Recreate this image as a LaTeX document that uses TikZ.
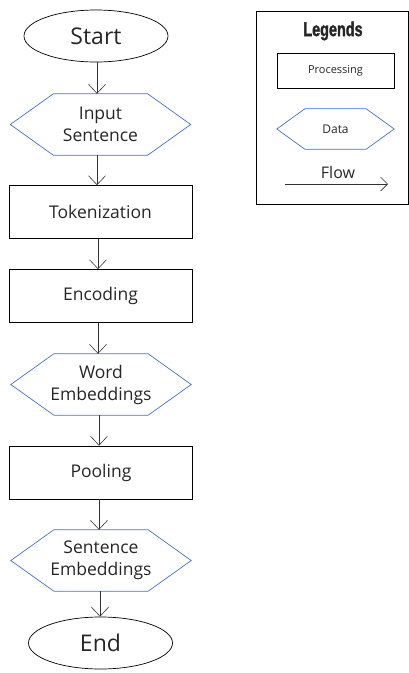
\documentclass[tikz,border=0pt]{standalone}
\usepackage{fontspec}
\setmainfont{Open Sans}
\newfontfamily\legendfont{Liberation Sans Bold}[FakeStretch=0.72,FakeBold=1.5]
\usetikzlibrary{arrows.meta,shapes.geometric}
\definecolor{datablue}{RGB}{68,114,196}
\definecolor{txt}{RGB}{38,38,38}
\newcommand{\hexdraw}[2]{\draw[datablue,line width=0.7pt] (#1.west) -- ([xshift=#2]#1.north west) -- ([xshift=-#2]#1.north east) -- (#1.east) -- ([xshift=-#2]#1.south east) -- ([xshift=#2]#1.south west) -- cycle;}
\begin{document}
\begin{tikzpicture}[x=1pt,y=-1pt,
  every node/.style={font=\fontsize{17.5}{22}\selectfont, align=center, text=txt},
  term/.style={draw, ellipse, line width=0.7pt, minimum width=144pt, minimum height=52pt, inner sep=0pt, font=\fontsize{23}{26}\selectfont},
  proc/.style={draw, rectangle, line width=0.7pt, minimum width=183pt, minimum height=53pt, inner sep=0pt},
  datan/.style={minimum width=180pt, minimum height=61pt, inner sep=0pt},
  flowarrow/.style={-{Straight Barb[length=9pt,width=17pt]}, line width=0.6pt, draw=black!80}
]
\useasboundingbox (0,0) rectangle (409,673);
% main flow
\node[term] (start) at (96,36) {Start};
\node[datan] (input) at (100.5,124.5) {Input\\Sentence};
\hexdraw{input}{43pt}
\node[proc] (tok) at (100.5,212) {Tokenization};
\node[proc] (enc) at (100.5,296) {Encoding};
\node[datan] (word) at (101,384.5) {Word\\Embeddings};
\hexdraw{word}{43pt}
\node[proc] (pool) at (101,472.5) {Pooling};
\node[datan] (sent) at (101,560.5) {Sentence\\Embeddings};
\hexdraw{sent}{43pt}
\node[term] (end) at (100.5,643) {End};
\draw[flowarrow] (start.south -| 97,0) -- (input.north -| 97,0);
\draw[flowarrow] (input.south -| 97,0) -- (tok.north -| 97,0);
\draw[flowarrow] (tok.south -| 98,0) -- (enc.north -| 98,0);
\draw[flowarrow] (enc.south -| 98,0) -- (word.north -| 98,0);
\draw[flowarrow] (word.south -| 99,0) -- (pool.north -| 99,0);
\draw[flowarrow] (pool.south -| 99,0) -- (sent.north -| 99,0);
\draw[flowarrow] (sent.south -| 100,0) -- (end.north -| 100,0);
% legend
\node[draw, line width=0.8pt, minimum width=152pt, minimum height=193pt, inner sep=0pt] (legend) at (332,107.5) {};
\node[font=\legendfont\fontsize{20}{22}\selectfont, text=black!85] (ltitle) at (333,31) {Legends};
\node[draw, line width=0.7pt, minimum width=117pt, minimum height=35pt, inner sep=0pt, font=\fontsize{11}{13}\selectfont] (lproc) at (335.5,70.5) {Processing};
\node[minimum width=117pt, minimum height=40pt, inner sep=0pt, font=\fontsize{12}{14}\selectfont] (ldata) at (335.5,129) {Data};
\hexdraw{ldata}{28pt}
\node[font=\fontsize{16}{18}\selectfont] (lflow) at (338,172) {Flow};
\coordinate (fa) at (285,184);
\coordinate (fb) at (388,184);
\draw[-{Straight Barb[length=7pt,width=14pt]}, line width=0.6pt, draw=black!80] (fa) -- (fb);
\end{tikzpicture}
\end{document}
